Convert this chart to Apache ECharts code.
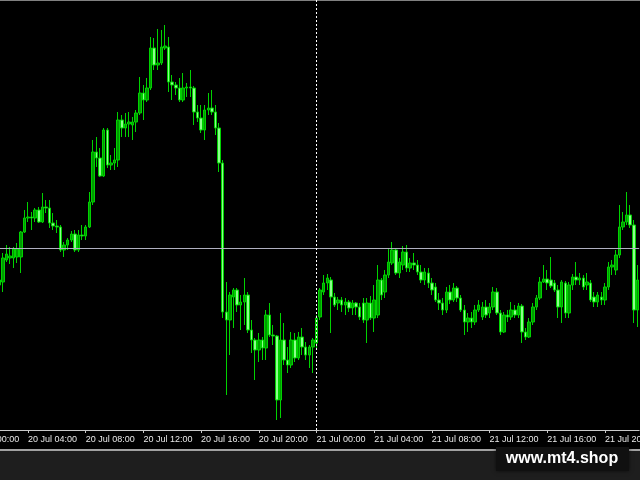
<!DOCTYPE html>
<html>
<head>
<meta charset="utf-8">
<script src="https://cdn.jsdelivr.net/npm/echarts@6/dist/echarts.min.js"></script>
<style>
  html, body { margin: 0; padding: 0; background: #000; }
  #chart { width: 640px; height: 480px; }
</style>
</head>
<body>
<div id="chart"></div>
<script>
// 15-minute bars, first bar 20 Jul 02:00 (arbitrary price units)
const open = [
  215,218,240,242,242,243,243,268,282,283,282,290,278,293,292,277,274,273,250,255,
  260,266,250,265,264,273,298,348,342,324,370,335,337,340,380,372,376,375,378,387,
  407,400,412,452,435,437,452,453,418,415,412,400,412,413,412,388,382,370,390,392,
  388,372,337,188,180,203,210,195,198,205,170,160,150,160,152,185,165,164,100,160,
  140,135,160,142,163,153,145,153,157,183,208,217,220,203,197,200,195,198,192,197,
  193,197,180,197,182,185,220,208,225,237,250,227,235,248,232,237,235,228,220,227,
  217,213,200,197,190,208,200,212,202,190,178,182,178,190,183,193,187,193,208,187,
  168,185,183,190,185,194,168,163,178,193,202,218,221,220,217,210,193,217,187,215,
  223,220,222,215,217,203,198,203,200,213,233,230,245,273,278,285,275,190
];
const close = [
  220,242,246,244,251,251,268,282,283,282,290,278,293,292,277,274,273,250,255,260,
  266,250,265,264,273,298,348,342,324,370,335,337,340,380,372,376,378,378,387,407,
  400,412,452,435,437,453,454,418,415,412,400,412,413,412,388,382,370,390,392,388,
  372,337,188,180,205,210,195,198,205,170,160,150,160,152,185,165,164,100,160,140,
  135,160,142,163,153,145,153,160,182,210,217,222,203,195,200,195,198,192,197,193,
  183,180,197,182,200,220,205,225,238,250,227,238,248,232,237,235,228,220,228,217,
  210,200,197,190,208,200,212,202,190,178,182,178,190,195,193,185,193,208,187,168,
  185,183,190,185,194,168,163,178,193,202,218,221,217,214,210,193,218,187,215,223,
  220,222,213,218,200,198,205,200,213,233,235,245,273,278,285,275,190,220
];
const low = [
  210,208,238,236,232,237,227,267,278,270,278,277,277,287,272,270,267,248,243,250,
  258,248,248,260,260,272,295,333,323,323,332,330,330,333,363,363,363,360,368,385,
  380,398,410,430,430,435,450,408,400,405,398,398,403,403,375,378,367,360,385,385,
  365,328,182,105,145,172,188,170,175,167,147,120,138,140,140,163,155,80,82,135,
  127,132,138,140,145,140,132,127,150,180,205,210,167,193,190,188,185,188,185,185,
  180,177,157,180,168,182,200,202,222,235,225,222,230,228,228,230,225,217,215,212,
  205,198,190,185,187,196,198,198,188,165,168,172,175,188,180,182,182,190,185,165,
  167,178,180,182,182,157,160,162,175,190,200,217,210,212,208,182,177,182,182,210,
  215,215,210,210,198,193,193,195,195,210,225,225,242,270,275,272,177,173
];
const high = [
  225,247,255,253,253,257,269,290,298,288,292,293,307,300,300,287,280,275,258,262,
  269,270,270,275,275,308,360,363,352,372,372,345,352,388,385,387,388,383,390,423,
  415,422,463,462,471,470,475,463,425,418,422,427,417,430,414,395,395,395,407,410,
  395,377,340,218,208,212,212,205,222,208,180,162,167,163,190,197,175,165,187,177,
  153,168,167,168,172,158,155,162,185,212,225,226,223,207,203,203,202,200,200,198,
  197,202,202,204,215,235,222,230,252,258,252,242,254,255,242,247,240,235,232,232,
  222,217,207,202,213,215,217,214,205,195,187,188,195,200,198,200,197,213,212,190,
  188,190,198,195,197,196,172,182,197,205,223,235,230,243,220,215,220,219,218,226,
  238,227,225,227,220,208,208,208,217,238,240,250,295,288,308,295,280,235
];
const horizontalLevel = 252;          // drawn horizontal line
const separatorLabel = '21 Jul 00:00'; // period separator

// time categories: axis starts at 20 Jul 00:00 (8 empty slots before the first bar)
const leadingEmpty = 8;
const startMs = Date.UTC(2020, 6, 20, 0, 0);
const stepMs = 15 * 60 * 1000;
const categories = [];
const total = leadingEmpty + open.length;
for (let k = 0; k < total; k++) {
  const d = new Date(startMs + k * stepMs);
  const hh = String(d.getUTCHours()).padStart(2, '0');
  const mm = String(d.getUTCMinutes()).padStart(2, '0');
  categories.push(d.getUTCDate() + ' Jul ' + hh + ':' + mm);
}
const candles = [];
for (let k = 0; k < leadingEmpty; k++) candles.push('-');
for (let i = 0; i < open.length; i++) candles.push([open[i], close[i], low[i], high[i]]);

const chart = echarts.init(document.getElementById('chart'), null, { renderer: 'canvas' });
const labelFont = "'Liberation Sans', Arial, sans-serif";
chart.setOption({
  backgroundColor: '#000000',
  animation: false,
  grid: { left: -31.5, top: 0, width: 670.7, height: 430, containLabel: false, outerBoundsMode: 'none' },
  xAxis: {
    type: 'category',
    data: categories,
    boundaryGap: true,
    axisLine: { show: true, lineStyle: { color: '#c8c8c8', width: 1 } },
    axisTick: { show: true, alignWithLabel: true, interval: 15, length: 3, lineStyle: { color: '#c8c8c8' } },
    axisLabel: { interval: 15, align: 'left', color: '#e8e8e8', fontSize: 9, margin: 5, fontFamily: labelFont, hideOverlap: false },
    splitLine: { show: false }
  },
  yAxis: { type: 'value', min: 70, max: 500, show: false, splitLine: { show: false } },
  series: [{
    type: 'candlestick',
    data: candles,
    barWidth: 3,
    itemStyle: {
      color: '#009a00', color0: '#8cff8c',
      borderColor: '#00d200', borderColor0: '#00d200', borderWidth: 1
    },
    markLine: {
      silent: true, symbol: ['none', 'none'], label: { show: false },
      data: [
        { yAxis: horizontalLevel, lineStyle: { color: '#b0b0c0', type: 'solid', width: 1 } },
        { xAxis: categories.indexOf(separatorLabel), lineStyle: { color: '#ffffff', type: [2, 2], width: 1 } }
      ]
    }
  }],
  graphic: [
    { type: 'rect', shape: { x: 0, y: 451, width: 640, height: 29 }, style: { fill: '#1e1e1e' }, silent: true },
    { type: 'line', shape: { x1: 0, y1: 450, x2: 640, y2: 450 }, style: { stroke: '#d8d8d8', lineWidth: 1.5 }, silent: true },
    { type: 'line', shape: { x1: 0, y1: 0.5, x2: 640, y2: 0.5 }, style: { stroke: '#808080', lineWidth: 1 }, silent: true },
    { type: 'rect', shape: { x: 496, y: 447, width: 133, height: 24 }, style: { fill: '#101010', shadowBlur: 4, shadowColor: 'rgba(0,0,0,0.6)' }, silent: true },
    { type: 'text', x: 562, y: 459, style: { text: 'www.mt4.shop', fill: '#ffffff', font: "bold 16px 'Liberation Sans', Arial, sans-serif", textAlign: 'center', textVerticalAlign: 'middle' }, silent: true }
  ]
});
</script>
</body>
</html>
